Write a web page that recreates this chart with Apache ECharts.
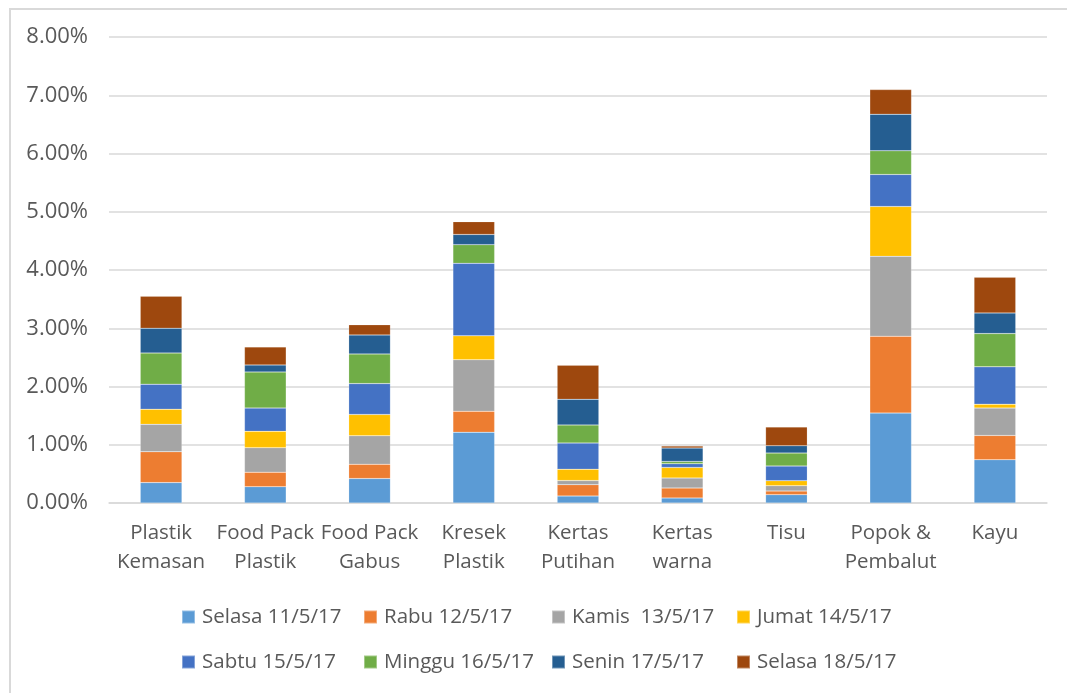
<!DOCTYPE html>
<html>
<head>
<meta charset="utf-8">
<script src="https://cdn.jsdelivr.net/npm/echarts@6/dist/echarts.min.js"></script>
<style>
  html, body { margin: 0; padding: 0; background: #fff; }
  #frame { position: absolute; left: 9px; top: 8px; width: 1070px; height: 700px;
           border-left: 2px solid #d9d9d9; border-top: 2px solid #d9d9d9; }
  #chart { position: absolute; left: 0; top: 0; width: 1067px; height: 693px; }
</style>
</head>
<body>
<div id="frame"></div>
<div id="chart"></div>
<script>
// kategori sampah
const categories = ['Plastik\nKemasan', 'Food Pack\nPlastik', 'Food Pack\nGabus', 'Kresek\nPlastik',
  'Kertas\nPutihan', 'Kertas\nwarna', 'Tisu', 'Popok &\nPembalut', 'Kayu'];

// persentase per hari (%)
const selasa11 = [0.35, 0.28, 0.42, 1.215, 0.12, 0.086, 0.143, 1.543, 0.743];
const rabu12   = [0.53, 0.25, 0.245, 0.36, 0.195, 0.171, 0.063, 1.32, 0.417];
const kamis13  = [0.47, 0.42, 0.49, 0.885, 0.07, 0.172, 0.091, 1.371, 0.469];
const jumat14  = [0.26, 0.28, 0.365, 0.41, 0.195, 0.182, 0.086, 0.856, 0.068];
const sabtu15  = [0.43, 0.40, 0.53, 1.245, 0.45, 0.063, 0.251, 0.55, 0.64];
const minggu16 = [0.535, 0.62, 0.51, 0.32, 0.31, 0.04, 0.223, 0.406, 0.572];
const senin17  = [0.425, 0.12, 0.325, 0.175, 0.44, 0.229, 0.126, 0.628, 0.354];
const selasa18 = [0.55, 0.31, 0.175, 0.22, 0.585, 0.034, 0.32, 0.423, 0.611];

const yTicks = [0, 1, 2, 3, 4, 5, 6, 7, 8];

const seriesDefs = [
  { name: 'Selasa 11/5/17', data: selasa11, color: '#5B9BD5' },
  { name: 'Rabu 12/5/17', data: rabu12, color: '#ED7D31' },
  { name: 'Kamis  13/5/17', data: kamis13, color: '#A5A5A5' },
  { name: 'Jumat 14/5/17', data: jumat14, color: '#FFC000' },
  { name: 'Sabtu 15/5/17', data: sabtu15, color: '#4472C4' },
  { name: 'Minggu 16/5/17', data: minggu16, color: '#70AD47' },
  { name: 'Senin 17/5/17', data: senin17, color: '#255E91' },
  { name: 'Selasa 18/5/17', data: selasa18, color: '#9E480E' }
];

const FONT = '"Open Sans", sans-serif';
const chart = echarts.init(document.getElementById('chart'));

// legenda 2 baris x 4 kolom, kolom lebar tetap seperti Excel
const legendCols = [181, 363, 551, 736];
const legendRows = [605, 650];
const legends = seriesDefs.map((s, i) => ({
  left: legendCols[i % 4],
  top: legendRows[Math.floor(i / 4)],
  padding: 0,
  itemWidth: 13,
  itemHeight: 13,
  icon: 'rect',
  data: [s.name],
  textStyle: { color: '#595959', fontSize: 20.5, fontFamily: FONT, lineHeight: 24, padding: [0, 0, 0, 2] }
}));

chart.setOption({
  animation: false,
  color: seriesDefs.map(s => s.color),
  legend: legends,
  grid: { left: 109, right: 20, top: 37, bottom: 190 },
  xAxis: {
    type: 'category',
    data: categories,
    axisLine: { lineStyle: { color: '#d9d9d9', width: 1.5 } },
    axisTick: { show: false },
    axisLabel: { color: '#595959', fontSize: 20.5, fontFamily: FONT, lineHeight: 29, margin: 16, interval: 0 }
  },
  yAxis: {
    type: 'value',
    min: yTicks[0],
    max: yTicks[yTicks.length - 1],
    interval: 1,
    axisLine: { show: false },
    axisTick: { show: false },
    splitLine: { lineStyle: { color: '#d9d9d9', width: 1.5 } },
    axisLabel: { color: '#595959', fontSize: 22, fontFamily: FONT, margin: 21,
      formatter: v => v.toFixed(2) + '%' }
  },
  series: seriesDefs.map(s => ({
    name: s.name,
    type: 'bar',
    stack: 'total',
    barWidth: '40%',
    data: s.data,
    itemStyle: { color: s.color, borderColor: 'rgba(255,255,255,0.35)', borderWidth: 0.5 }
  }))
});
</script>
</body>
</html>
